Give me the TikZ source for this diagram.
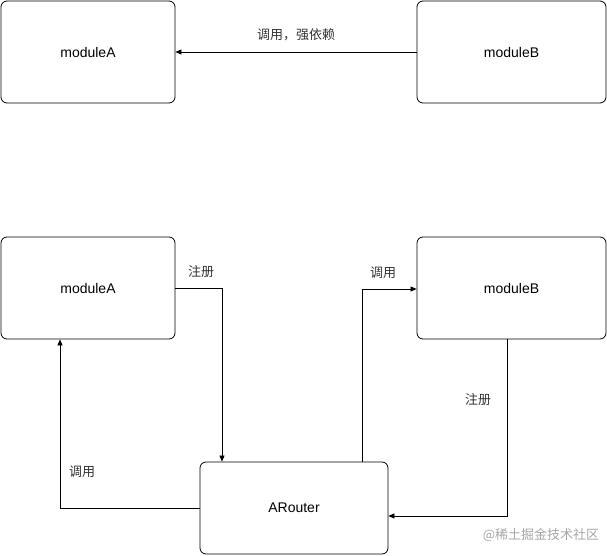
\documentclass[tikz,border=0pt]{standalone}
\usepackage{fontspec}
\setmainfont{Liberation Sans}
\newfontfamily\cjk{Noto Sans CJK SC}
\usetikzlibrary{arrows.meta}
\tikzset{box/.style={draw,rounded corners=6pt,line width=0.8pt,font=\fontsize{14}{16}\selectfont},
 conn/.style={-{Triangle[length=6pt,width=5pt]},line width=0.7pt},
 lbl/.style={font=\cjk\fontsize{13}{15}\selectfont,text=black!80}}
\begin{document}
\begin{tikzpicture}[x=1pt,y=-1pt]
\useasboundingbox (0,0) rectangle (607,556);
\node[box,minimum width=174pt,minimum height=102pt] (ta) at (88,52) {moduleA};
\node[box,minimum width=189pt,minimum height=102pt] (tb) at (511.5,52) {moduleB};
\draw[conn] (tb.west) -- (ta.east) node[lbl,midway,above=7pt] {调用，强依赖};
\node[box,minimum width=174pt,minimum height=102pt] (ba) at (88,288) {moduleA};
\node[box,minimum width=189pt,minimum height=102pt] (bb) at (511.5,288) {moduleB};
\node[box,minimum width=188pt,minimum height=92pt] (ar) at (294,508) {ARouter};
\coordinate (c1) at (222,288);
\draw[conn] (ba.east) -- (c1) -- (c1 |- ar.north);
\node[lbl] at (201,272) {注册};
\coordinate (c2) at (60,508);
\draw[conn] (ar.west) -- (c2) -- (c2 |- ba.south);
\node[lbl] at (82,472) {调用};
\coordinate (c3) at (362,289);
\draw[conn] (c3 |- ar.north) -- (c3) -- (bb.west |- c3);
\node[lbl] at (383,273) {调用};
\coordinate (c4) at (507,516);
\draw[conn] (c4 |- bb.south) -- (c4) -- (ar.east |- c4);
\node[lbl] at (478,400) {注册};
\node[font=\cjk\fontsize{13}{15}\selectfont,text=black!35] (wm) at (541,535) {@稀土掘金技术社区};
\end{tikzpicture}
\end{document}
